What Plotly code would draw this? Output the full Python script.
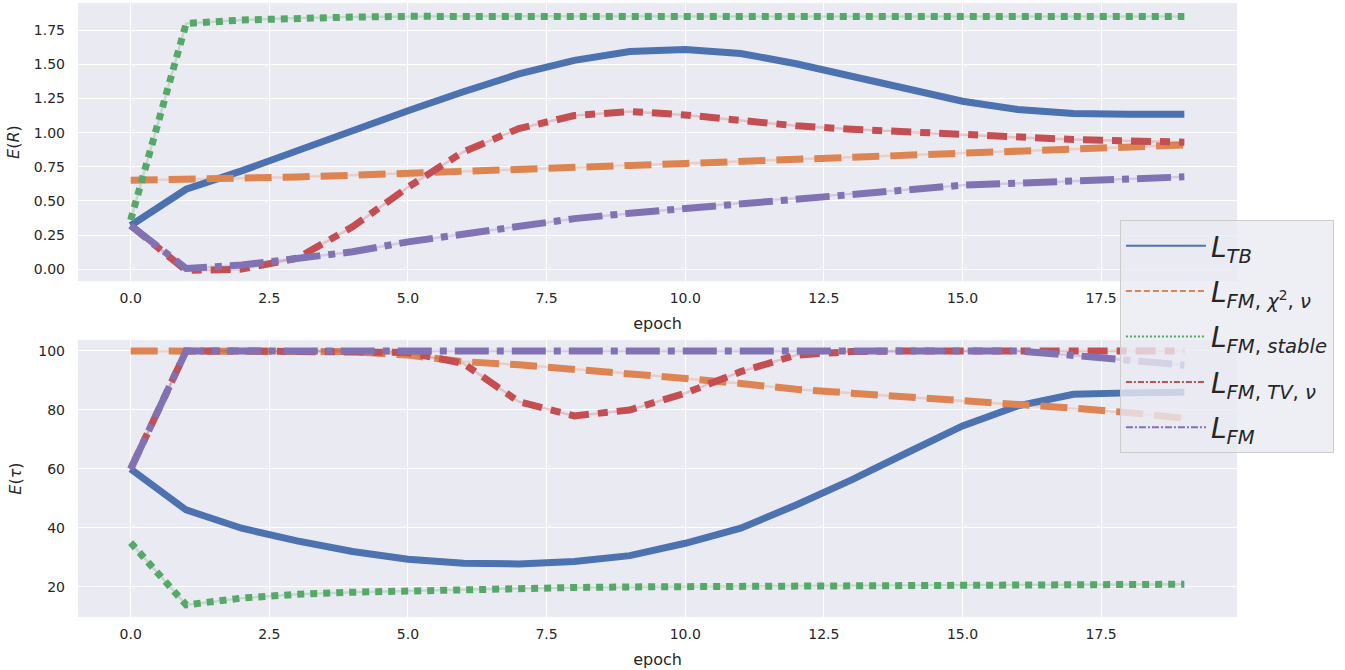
import plotly.graph_objects as go
from plotly.subplots import make_subplots

# epochs
epochs = list(range(20))

# E(R) per loss
r_tb = [0.32, 0.585, 0.72, 0.87, 1.01, 1.16, 1.30, 1.43, 1.53, 1.595, 1.61,
        1.58, 1.505, 1.41, 1.315, 1.23, 1.17, 1.14, 1.135, 1.135]
r_chi = [0.652, 0.657, 0.665, 0.675, 0.688, 0.70, 0.715, 0.73, 0.745, 0.76, 0.774,
         0.79, 0.805, 0.82, 0.833, 0.847, 0.862, 0.877, 0.893, 0.91]
r_stable = [0.36, 1.80, 1.825, 1.84, 1.847, 1.852, 1.853, 1.852, 1.851, 1.851, 1.851,
            1.851, 1.851, 1.851, 1.851, 1.851, 1.851, 1.851, 1.851, 1.851]
r_tv = [0.32, -0.01, 0.0, 0.08, 0.31, 0.60, 0.86, 1.03, 1.125, 1.155, 1.13,
        1.09, 1.05, 1.025, 1.005, 0.98, 0.965, 0.95, 0.94, 0.93]
r_fm = [0.32, 0.005, 0.03, 0.08, 0.127, 0.20, 0.26, 0.315, 0.37, 0.41, 0.445,
        0.485, 0.52, 0.55, 0.58, 0.615, 0.63, 0.645, 0.66, 0.676]

# E(tau) per loss
t_tb = [60.0, 46.1, 39.9, 35.6, 32.0, 29.4, 28.0, 27.8, 28.6, 30.6, 34.8,
        39.9, 47.8, 56.3, 65.5, 74.6, 81.4, 85.3, 85.8, 86.0]
t_chi = [100.0, 100.0, 100.0, 100.0, 99.8, 98.6, 96.4, 95.3, 93.9, 92.4, 90.7,
         89.0, 87.0, 85.7, 84.5, 83.1, 81.7, 80.6, 79.1, 77.2]
t_stable = [35.0, 13.9, 16.2, 17.5, 18.2, 18.7, 19.2, 19.5, 19.8, 20.0, 20.1,
            20.2, 20.3, 20.4, 20.5, 20.6, 20.7, 20.8, 20.85, 20.9]
t_tv = [60.0, 100.0, 100.0, 100.0, 100.0, 99.5, 95.8, 82.8, 78.0, 80.0, 85.7,
        93.0, 98.6, 99.8, 100.0, 100.0, 100.0, 100.0, 100.0, 100.0]
t_fm = [60.0, 100.0, 100.0, 100.0, 100.0, 100.0, 100.0, 100.0, 100.0, 100.0, 100.0,
        100.0, 100.0, 100.0, 100.0, 100.0, 100.0, 98.5, 96.8, 95.2]

names = ["<i>L</i><sub><i>TB</i></sub>",
         "<i>L</i><sub><i>FM</i>, <i>χ</i><sup>2</sup>, <i>ν</i></sub>",
         "<i>L</i><sub><i>FM</i>, <i>stable</i></sub>",
         "<i>L</i><sub><i>FM</i>, <i>TV</i>, <i>ν</i></sub>",
         "<i>L</i><sub><i>FM</i></sub>"]
colors = ["#4C72B0", "#DD8452", "#55A868", "#C44E52", "#8172B3"]
dashes = ["solid", "27px,11px", "7px,6px", "20px,9px,10px,9px", "34px,8px,7px,8px"]
legend_dashes = ["solid", "6px,3px", "2px,2px", "6px,2px,2px,2px", "7px,2px,2px,2px"]

top = [r_tb, r_chi, r_stable, r_tv, r_fm]
bottom = [t_tb, t_chi, t_stable, t_tv, t_fm]

fig = make_subplots(rows=2, cols=1)

for row, series in [(1, top), (2, bottom)]:
    for i, ys in enumerate(series):
        # faint thin line behind each curve
        fig.add_trace(go.Scatter(x=epochs, y=ys, mode="lines",
                                 line=dict(color=colors[i], width=2.5),
                                 opacity=0.25, showlegend=False, hoverinfo="skip"),
                      row=row, col=1)
        fig.add_trace(go.Scatter(x=epochs, y=ys, mode="lines",
                                 line=dict(color=colors[i], width=7, dash=dashes[i]),
                                 showlegend=False, name=names[i]),
                      row=row, col=1)

# legend entries with thin lines
for i in range(5):
    fig.add_trace(go.Scatter(x=[None], y=[None], mode="lines", name=names[i],
                             legendgroup=str(i),
                             line=dict(color=colors[i], width=2, dash=legend_dashes[i])),
                  row=1, col=1)

axis_style = dict(showgrid=True, gridcolor="white", gridwidth=1.3, zeroline=False,
                  showline=False, ticks="", automargin=False,
                  tickfont=dict(size=14, color="#262626"))

fig.update_xaxes(axis_style)
fig.update_yaxes(axis_style)

fig.update_xaxes(range=[-0.95, 19.95], dtick=2.5, tick0=0, tickformat=".1f",
                 ticklabelstandoff=7,
                 title=dict(text="epoch", font=dict(size=16, color="#262626"), standoff=12))
fig.update_yaxes(range=[-0.088, 1.95], dtick=0.25, tick0=0, tickformat=".2f",
                 ticklabelstandoff=12,
                 title=dict(text="<i>E</i>(<i>R</i>)", font=dict(size=16, color="#262626"),
                            standoff=10), row=1, col=1)
fig.update_yaxes(range=[9.8, 103.7], dtick=20, tick0=0,
                 ticklabelstandoff=12,
                 title=dict(text="<i>E</i>(<i>τ</i>)", font=dict(size=16, color="#262626"),
                            standoff=12), row=2, col=1)

fig.update_layout(
    width=1345, height=670,
    margin=dict(l=78, r=108, t=3, b=53),
    paper_bgcolor="white",
    plot_bgcolor="#EAEAF2",
    font=dict(family="DejaVu Sans", color="#262626"),
    yaxis=dict(domain=[0.547, 1.0]),
    yaxis2=dict(domain=[0.0, 0.451]),
    legend=dict(x=0.899, y=0.6466, xanchor="left", yanchor="top",
                bgcolor="rgba(234,234,242,0.8)", bordercolor="#cccccc", borderwidth=1,
                font=dict(size=28, color="#262626"), tracegroupgap=6,
                itemwidth=80),
)

fig.write_html("out.html", config={"displayModeBar": False},
               post_script="document.body.style.margin='0';")
